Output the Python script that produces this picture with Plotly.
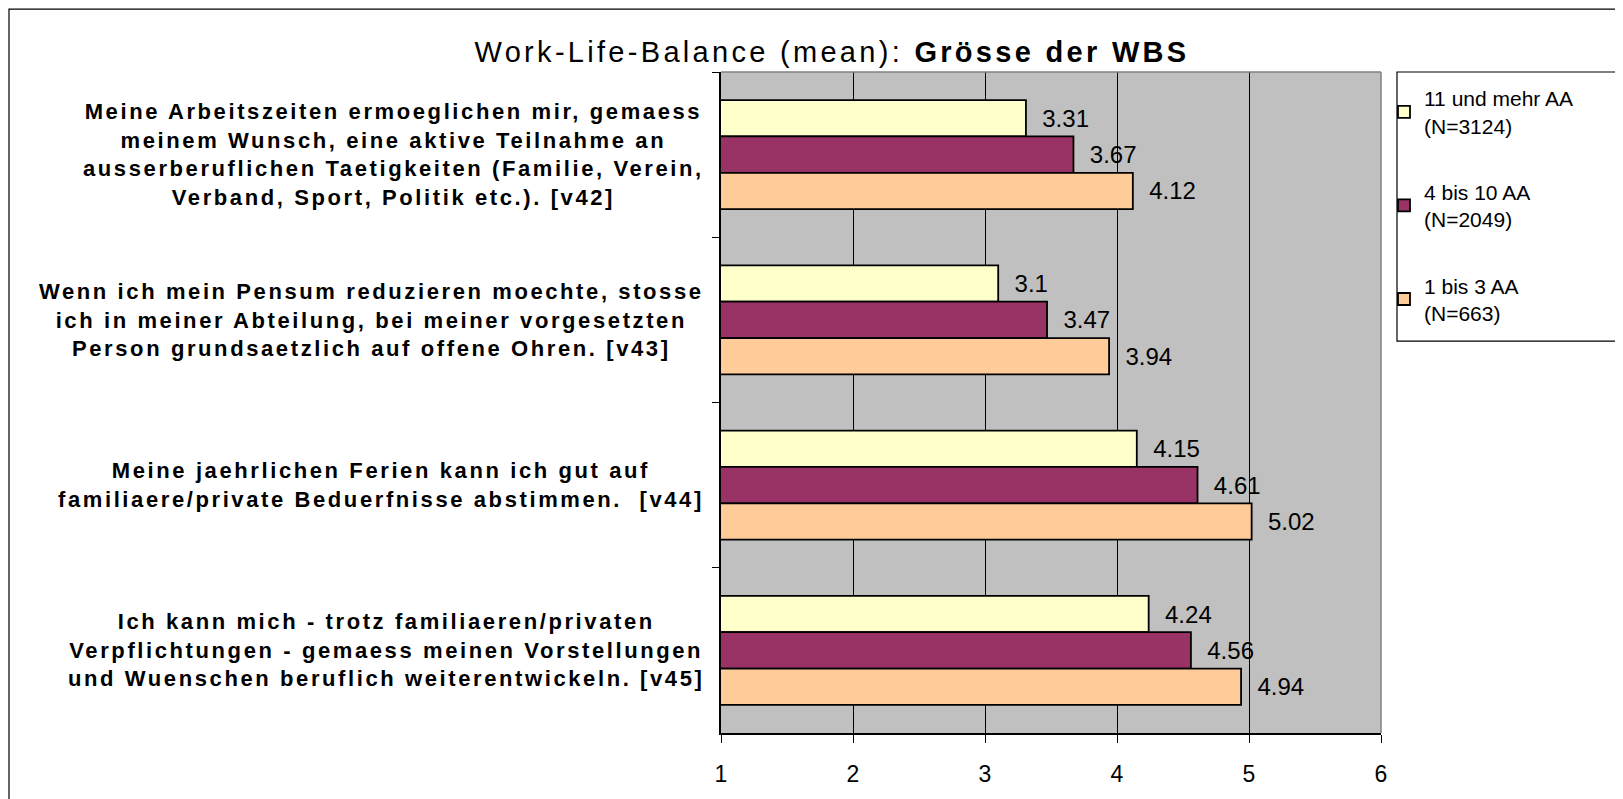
import plotly.graph_objects as go

# Work-Life-Balance means by size of the WBS
categories = [
    "Meine Arbeitszeiten ermoeglichen mir, gemaess<br>meinem Wunsch, eine aktive Teilnahme an<br>"
    "ausserberuflichen Taetigkeiten (Familie, Verein,<br>Verband, Sport, Politik etc.). [v42]",
    "Wenn ich mein Pensum reduzieren moechte, stosse<br>ich in meiner Abteilung, bei meiner vorgesetzten<br>"
    "Person grundsaetzlich auf offene Ohren. [v43]",
    "Meine jaehrlichen Ferien kann ich gut auf<br>familiaere/private Beduerfnisse abstimmen.  [v44]",
    "Ich kann mich - trotz familiaeren/privaten<br>Verpflichtungen - gemaess meinen Vorstellungen<br>"
    "und Wuenschen beruflich weiterentwickeln. [v45]",
]
series_names = [
    "11 und mehr AA<br>(N=3124)",
    "4 bis 10 AA<br>(N=2049)",
    "1 bis 3 AA<br>(N=663)",
]
values_11_plus = [3.31, 3.10, 4.15, 4.24]
values_4_10 = [3.67, 3.47, 4.61, 4.56]
values_1_3 = [4.12, 3.94, 5.02, 4.94]
x_ticks = [1, 2, 3, 4, 5, 6]

COLORS = ["#FFFFCC", "#993366", "#FFCC99"]
FONT = "Arial, Liberation Sans, sans-serif"

# the html page puts the figure 8px in from the top left corner
OFF = 8
W, H = 1623 - OFF, 799 - OFF
L, R, T, B = 721 - OFF, 1381 - OFF, 72 - OFF, 735 - OFF  # plot area
pw, ph = R - L, B - T


def px_x(x):
    return (x - OFF - L) / pw


def px_y(y):
    return (B - (y - OFF)) / ph


def spaced(text, px):
    # wide Excel-like text rendering
    return f"<span style='letter-spacing:{px}px'>{text}</span>"


fig = go.Figure()
for i, (name, vals) in enumerate(zip(series_names, [values_11_plus, values_4_10, values_1_3])):
    fig.add_trace(
        go.Bar(
            y=categories,
            x=vals,
            orientation="h",
            name=name,
            legendgroup=str(i),
            marker={"color": COLORS[i], "line": {"color": "black", "width": 1.8}},
            text=[f"{v:g}" for v in vals],
            texttemplate="\u00a0\u00a0%{text}",
            textposition="outside",
            cliponaxis=False,
            constraintext="none",
            textfont={"family": FONT, "size": 24, "color": "black"},
        )
    )

# centered category labels, right-aligned block next to the axis
for cat in categories:
    lines = cat.split("<br>")
    fig.add_annotation(
        text="<br>".join(f"<b>{spaced(line, 2.6)}</b>" for line in lines),
        xref="x domain",
        x=0,
        xshift=-15,
        xanchor="right",
        y=cat,
        yref="y",
        align="center",
        showarrow=False,
        font={"family": FONT, "size": 22, "color": "black"},
    )

# outer chart border
fig.add_shape(
    type="rect", xref="paper", yref="paper",
    x0=px_x(OFF + 1), x1=px_x(1623 + 5), y0=px_y(799 + 5), y1=px_y(OFF + 1),
    line={"color": "black", "width": 1.2}, layer="below",
)
# legend frame
fig.add_shape(
    type="rect", xref="paper", yref="paper",
    x0=px_x(1397), x1=px_x(1618), y0=px_y(342), y1=px_y(72),
    line={"color": "black", "width": 1.2}, layer="below",
)
# grey top and right edge of the plot area
fig.add_shape(type="line", xref="paper", yref="paper", x0=0, x1=1, y0=1, y1=1,
              line={"color": "#808080", "width": 1.5}, layer="above")
fig.add_shape(type="line", xref="paper", yref="paper", x0=1, x1=1, y0=0, y1=1,
              line={"color": "#808080", "width": 1.5}, layer="above")

fig.update_layout(
    width=W,
    height=H,
    margin={"l": L, "r": W - R, "t": T, "b": H - B},
    paper_bgcolor="white",
    plot_bgcolor="#C0C0C0",
    barmode="group",
    bargap=0.34,
    bargroupgap=0,
    font={"family": FONT, "color": "black"},
    title={
        "text": spaced("Work-Life-Balance (mean): ", 3.3) + "<b>" + spaced("Grösse der WBS", 3.3) + "</b>",
        "x": (832 - OFF) / W,
        "xanchor": "center",
        "y": 1 - (52 - OFF) / H,
        "yanchor": "middle",
        "font": {"family": FONT, "size": 29, "color": "black"},
    },
    xaxis={
        "range": [1, 6],
        "tickvals": x_ticks,
        "ticks": "outside",
        "ticklen": 8,
        "tickcolor": "black",
        "ticklabelstandoff": 12,
        "showline": True,
        "linecolor": "black",
        "linewidth": 1.5,
        "showgrid": True,
        "gridcolor": "black",
        "gridwidth": 1,
        "zeroline": False,
        "tickfont": {"family": FONT, "size": 23, "color": "black"},
    },
    yaxis={
        "autorange": "reversed",
        "showticklabels": False,
        "ticks": "outside",
        "tickson": "boundaries",
        "ticklen": 7,
        "tickcolor": "black",
        "showline": True,
        "linecolor": "black",
        "linewidth": 1.5,
        "showgrid": False,
    },
    legend={
        "x": px_x(1384),
        "y": px_y(78),
        "xanchor": "left",
        "yanchor": "top",
        "borderwidth": 0,
        "bgcolor": "rgba(0,0,0,0)",
        "tracegroupgap": 36,
        "itemwidth": 30,
        "font": {"family": FONT, "size": 21, "color": "black"},
    },
    showlegend=True,
)

fig.write_html("out.html")
